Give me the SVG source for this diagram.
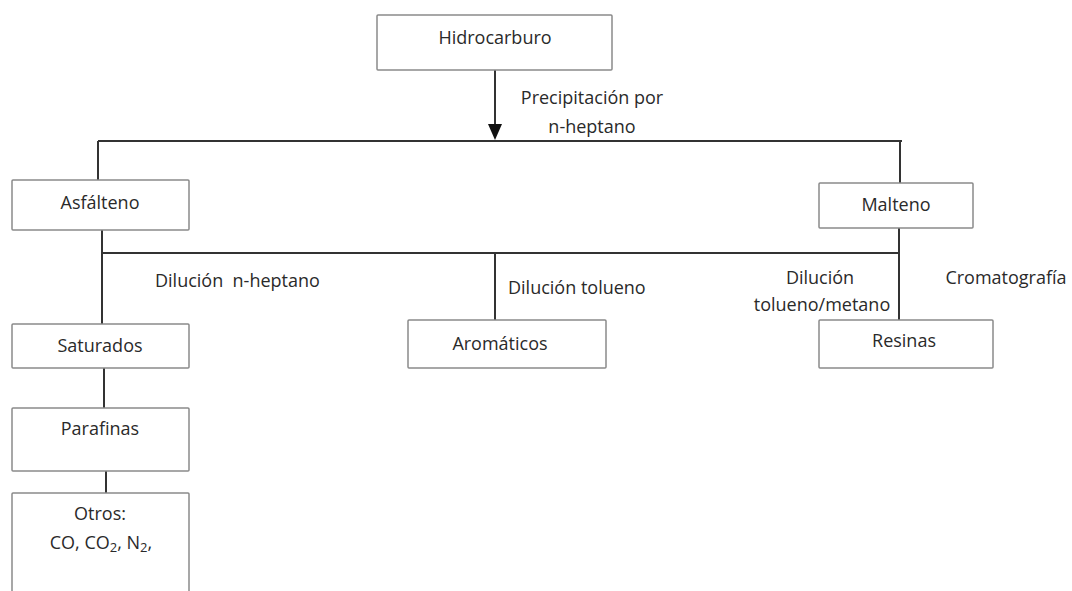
<svg xmlns="http://www.w3.org/2000/svg" width="1072" height="591" viewBox="0 0 1072 591">
<style>
.box{fill:#fff;stroke:#8a8a8a;stroke-width:1.5}
.ln{stroke:#333;stroke-width:2;fill:none}
text{font-family:"Open Sans","Noto Sans",sans-serif;font-size:18px;fill:#2a2a2a}
.c{text-anchor:middle}
</style>
<rect width="1072" height="591" fill="#fff"/>
<g id="connectors">
<line class="ln" x1="495" y1="70" x2="495" y2="130"/>
<path d="M488,124 L502,124 L495,140 Z" fill="#111"/>
<line class="ln" x1="98" y1="141" x2="902" y2="141"/>
<line class="ln" x1="98" y1="141" x2="98" y2="180"/>
<line class="ln" x1="900" y1="141" x2="900" y2="183"/>
<line class="ln" x1="102" y1="230" x2="102" y2="324"/>
<line class="ln" x1="102" y1="253" x2="900" y2="253"/>
<line class="ln" x1="899" y1="228" x2="899" y2="320"/>
<line class="ln" x1="495" y1="253" x2="495" y2="320"/>
<line class="ln" x1="104" y1="368" x2="104" y2="408"/>
<line class="ln" x1="106" y1="471" x2="106" y2="493"/>
<text class="c" x="592" y="104">Precipitación por</text>
<text class="c" x="592" y="133">n-heptano</text>
<text x="155" y="287">Dilución&#160; n-heptano</text>
<text x="508" y="294">Dilución tolueno</text>
<text class="c" x="820" y="284">Dilución</text>
<text class="c" x="822" y="311">tolueno/metano</text>
<text class="c" x="1006" y="284">Cromatografía</text>
</g>
<g id="hidrocarburo">
<rect class="box" x="377" y="15" width="235" height="55" rx="1"/>
<text class="c" x="495" y="44">Hidrocarburo</text>
</g>
<g id="asfalteno">
<rect class="box" x="12" y="180" width="177" height="50" rx="1"/>
<text class="c" x="100" y="209">Asfálteno</text>
</g>
<g id="malteno">
<rect class="box" x="819" y="183" width="154" height="45" rx="1"/>
<text class="c" x="896" y="211">Malteno</text>
</g>
<g id="saturados">
<rect class="box" x="12" y="324" width="177" height="44" rx="1"/>
<text class="c" x="100" y="352">Saturados</text>
</g>
<g id="aromaticos">
<rect class="box" x="408" y="320" width="198" height="48" rx="1"/>
<text class="c" x="500" y="350">Aromáticos</text>
</g>
<g id="resinas">
<rect class="box" x="819" y="320" width="174" height="48" rx="1"/>
<text class="c" x="904" y="347">Resinas</text>
</g>
<g id="parafinas">
<rect class="box" x="12" y="408" width="177" height="63" rx="1"/>
<text class="c" x="100" y="435">Parafinas</text>
</g>
<g id="otros">
<rect class="box" x="12" y="493" width="177" height="110" rx="1"/>
<text class="c" x="100" y="520">Otros:</text>
<text class="c" x="101" y="549">CO, CO<tspan font-size="13" dy="3">2</tspan><tspan dy="-3">, N</tspan><tspan font-size="13" dy="3">2</tspan><tspan dy="-3">,</tspan></text>
</g>
</svg>
